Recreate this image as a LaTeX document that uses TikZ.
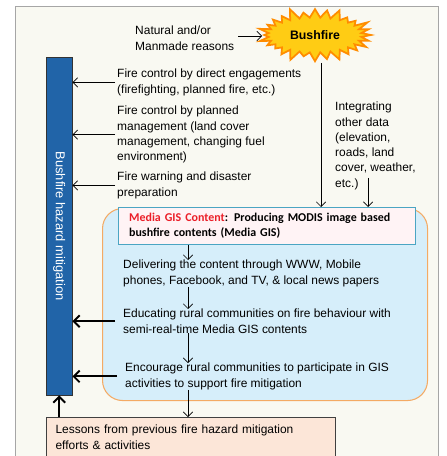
\documentclass[tikz,border=0pt]{standalone}
\usepackage{fontspec}
\setmainfont{Liberation Sans}
\newfontfamily\calibri{Carlito}
\usetikzlibrary{arrows.meta,positioning,shapes.symbols,calc}
\definecolor{frmfill}{RGB}{249,249,242}
\definecolor{barblue}{RGB}{33,100,168}
\definecolor{boxblue}{RGB}{214,238,250}
\definecolor{boxorange}{RGB}{244,170,100}
\definecolor{mediafill}{RGB}{255,243,245}
\definecolor{mediaedge}{RGB}{75,165,195}
\definecolor{mediared}{RGB}{235,30,40}
\definecolor{lessonfill}{RGB}{252,230,216}
\definecolor{fireyellow}{RGB}{255,204,20}
\definecolor{fireorange}{RGB}{255,140,0}
\tikzset{
  txt/.style={font=\fontsize{10.2}{13}\selectfont,align=left,inner sep=0pt,anchor=north west},
  arr/.style={-{Straight Barb[length=4pt,width=8pt]},semithick},
  bigarr/.style={-{Straight Barb[length=5pt,width=10pt]},line width=1.6pt}
}
\begin{document}
\begin{tikzpicture}[x=0.03cm,y=-0.03cm]
  \useasboundingbox (0,0) rectangle (446,456);
  % frame
  \draw[gray!70,fill=frmfill] (15,6) rectangle (438,470);
  % Bushfire
  \node[starburst,starburst points=28,starburst point height=0.35cm,
    fill=fireyellow,draw=fireorange,line width=1.5pt,minimum width=3.5cm,
    minimum height=1.75cm,font=\fontsize{10.5}{12}\selectfont\bfseries,inner sep=1pt] (fire) at (315,35) {Bushfire};
  \node[txt] (cause) at (135,26) {Natural and/or\\Manmade reasons};
  \draw[arr] (238,36) coordinate (c0) -- (c0 -| fire.west);
  % mitigation bar
  \node[draw=black!80,fill=barblue,minimum width=26*0.03cm,minimum height=338*0.03cm,
    anchor=north west,inner sep=0pt] (bar) at (46,57) {};
  \node[rotate=-90,text=white,font=\fontsize{11}{12}\selectfont] at (bar.center) {Bushfire hazard mitigation};
  % left branch texts
  \node[txt] (direct) at (117,69) {Fire control by direct engagements\\(firefighting, planned fire, etc.)};
  \node[txt] (planned) at (117,106) {Fire control by planned\\management (land cover\\management, changing fuel\\environment)};
  \node[txt] (warning) at (117,172) {Fire warning and disaster\\preparation};
  \foreach \n in {direct,planned,warning}
    \draw[arr] ([xshift=-2*0.03cm]\n.west) -- (\n.west -| bar.east);
  % other data
  \node[txt] (other) at (335,102) {Integrating\\other data\\(elevation,\\roads, land\\cover, weather,\\etc.)};
  % Media GIS
  \node[draw=boxorange,fill=boxblue,line width=0.9pt,rounded corners=0.6cm,anchor=north west,
    minimum width=325*0.03cm,minimum height=192*0.03cm] (cloud) at (102,208) {};
  \node[draw=mediaedge,fill=mediafill,thick,anchor=north west,minimum width=297*0.03cm,
    minimum height=37*0.03cm,text width=285*0.03cm,align=left,inner sep=1pt,
    font=\calibri\bfseries\fontsize{10.2}{13}\selectfont] (media) at (118,207)
    {\hspace*{4pt}\textcolor{mediared}{Media GIS Content}: Producing MODIS image based\\\hspace*{4pt}bushfire contents (Media GIS)};
  \draw[arr] (fire.south -| 321,0) -- (321,0 |- media.north);
  \draw[arr] ([yshift=12*0.03cm]other.south -| 368,0) -- (368,0 |- media.north);
  \node[txt] (deliver) at (123,260) {Delivering the content through WWW, Mobile\\phones, Facebook, and TV, \& local news papers};
  \node[txt] (educate) at (123,309) {Educating rural communities on fire behaviour with\\semi-real-time Media GIS contents};
  \node[txt] (encourage) at (125,363) {Encourage rural communities to participate in GIS\\activities to support fire mitigation};
  \coordinate (dx) at (188,0);
  \draw[arr] (media.south -| dx) -- (deliver.north -| dx);
  \draw[arr] (deliver.south -| dx) -- (educate.north -| dx);
  \draw[arr] (educate.south -| dx) -- (encourage.north -| dx);
  \foreach \n in {educate,encourage}
    \draw[bigarr] ([xshift=-8*0.03cm]\n.west) -- (\n.west -| bar.east);
  % lessons
  \node[draw=black!75,fill=lessonfill,anchor=north west,minimum width=289*0.03cm,
    minimum height=40*0.03cm,text width=275*0.03cm,inner sep=2pt,align=left,
    font=\fontsize{10.2}{13}\selectfont] (lessons) at (46,417)
    {\hspace*{2pt}Lessons from previous fire hazard mitigation\\\hspace*{2pt}efforts \& activities};
  \draw[arr] (encourage.south -| dx) -- (lessons.north -| dx);
  \draw[bigarr] (lessons.north -| bar.south) -- (bar.south);
\end{tikzpicture}
\end{document}
